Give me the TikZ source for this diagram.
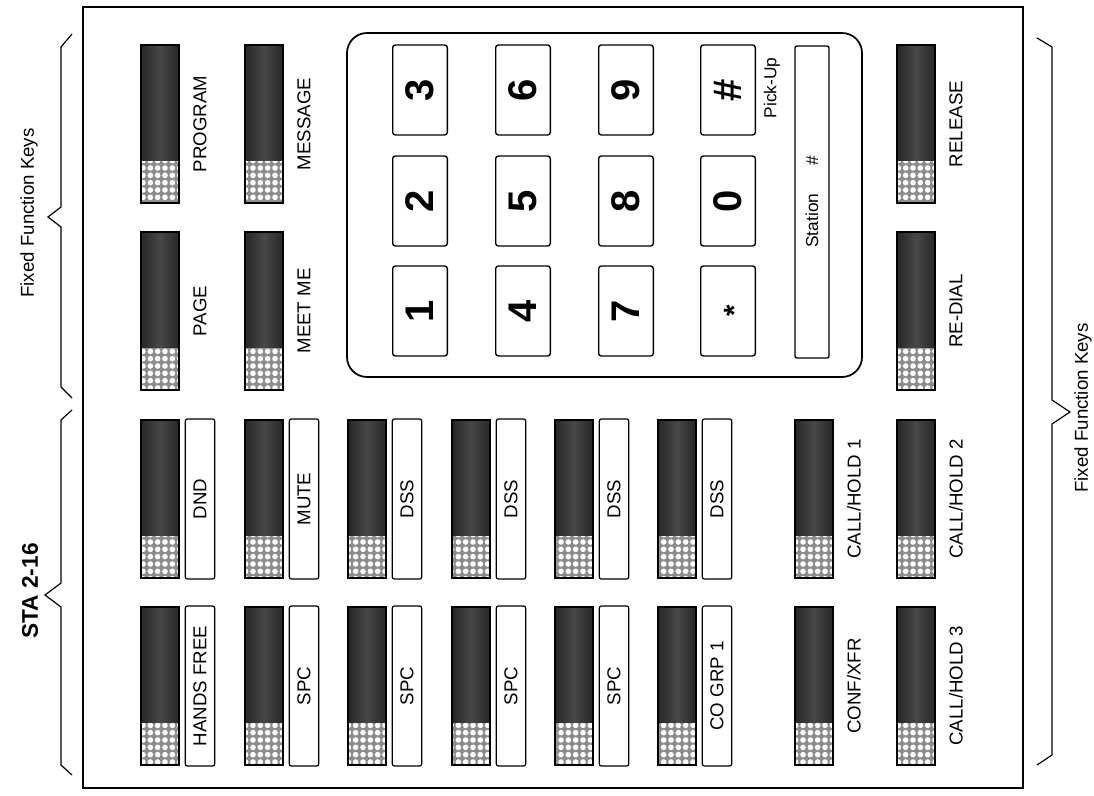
\documentclass[tikz,border=0pt]{standalone}
\usepackage{fontspec}
\setmainfont{Liberation Sans}
\usepackage{tikz}
\usetikzlibrary{patterns}
\definecolor{keydark}{HTML}{262626}
\definecolor{keymid}{HTML}{484848}
\pgfdeclarepatternformonly{keydots}{\pgfqpoint{-1pt}{-1pt}}{\pgfqpoint{6.5pt}{6.5pt}}{\pgfqpoint{5.5pt}{5.5pt}}%
  {\pgfpathcircle{\pgfqpoint{2.75pt}{2.75pt}}{2.1pt}\pgfusepath{fill}}

\begin{document}
\begin{tikzpicture}[x=0.75pt, y=-0.75pt,
  lbl/.style={rotate=90, inner sep=0pt, font=\fontsize{14}{16}\selectfont},
  lblbox/.style={lbl, draw, line width=0.9pt, rounded corners=1.5pt,
    minimum width=120pt, minimum height=22pt},
  digit/.style={draw, rotate=90, line width=1pt, rounded corners=2pt, inner sep=0pt,
    minimum width=67.5pt, minimum height=41pt, font=\fontsize{30}{30}\selectfont\bfseries},
  padlbl/.style={lbl, font=\fontsize{13}{15}\selectfont},
  fkey/.pic={
    \fill[left color=keydark, right color=keydark, middle color=keymid] (0,0) rectangle (38,116);
    \fill[black!45] (0,116) rectangle (38,158);
    \fill[pattern=keydots, pattern color=white] (0,116) rectangle (38,158);
    \draw[line width=0.9pt] (0,0) rectangle (38,158);
  }]
  \useasboundingbox (0,0) rectangle (1094,795);
  \draw[line width=1.3pt] (83,7) rectangle (1023,788);

  % 左侧括号
  \draw[line width=0.9pt] (72,34) -- (61,47) -- (61,207) -- (48,217) -- (61,227) -- (61,387) -- (72,398);
  \draw[line width=0.9pt] (72,410) -- (61,420) -- (61,583) -- (45,595) -- (61,607) -- (61,765) -- (72,775);
  \node[lbl] (ffk-l) at (29,213) {Fixed Function Keys};
  \node[lbl, font=\fontsize{17}{19}\selectfont\bfseries] (sta) at (30,591) {STA 2-16};

  % 右侧括号
  \draw[line width=0.9pt] (1037,38) -- (1052,47) -- (1052,400) -- (1070,412) -- (1052,424) -- (1052,755) -- (1037,765);
  \node[lbl] (ffk-r) at (1083,408) {Fixed Function Keys};

  % 固定功能键
  \foreach \kx/\ky/\lab [count=\n] in {141/45/PROGRAM, 141/232/PAGE, 245/45/MESSAGE, 245/232/MEET ME,
      897/45/RELEASE, 897/232/RE-DIAL, 795/420/{CALL/HOLD 1}, 795/607/{CONF/XFR},
      897/420/{CALL/HOLD 2}, 897/607/{CALL/HOLD 3}} {
    \pic at (\kx,\ky) {fkey};
    \node[lbl] (fk\n) at (\kx+59,\ky+79) {\lab};
  }

  % 带标签框的按键
  \foreach \kx/\ky/\lab [count=\n] in {141/420/DND, 141/607/HANDS FREE, 245/420/MUTE, 245/607/SPC,
      348/420/DSS, 348/607/SPC, 452/420/DSS, 452/607/SPC, 555/420/DSS, 555/607/SPC,
      658/420/DSS, 658/607/CO GRP 1} {
    \pic at (\kx,\ky) {fkey};
    \node[lblbox] (bx\n) at (\kx+59,\ky+79) {\lab};
  }

  % 拨号键盘
  \draw[line width=1.3pt, rounded corners=15pt] (347,33) rectangle (862,377);
  \foreach \cx/\cy/\lab [count=\n] in {420/90/3, 420/201/2, 420/311/1, 523/90/6, 523/201/5, 523/311/4,
      626/90/9, 626/201/8, 626/311/7, 728/90/\#, 728/201/0,
      728/311/{\smash{\raisebox{-12.5pt}{\fontsize{22}{22}\selectfont *}}}} {
    \node[digit] (d\n) at (\cx,\cy) {\lab};
  }
  \node[padlbl] (pickup) at (772,88) {Pick-Up};
  \node[padlbl, draw, line width=1pt, rounded corners=1.5pt, minimum width=234pt,
    minimum height=25.5pt] (station) at (812,202) {Station\hspace{1.6em}\#};
\end{tikzpicture}
\end{document}
